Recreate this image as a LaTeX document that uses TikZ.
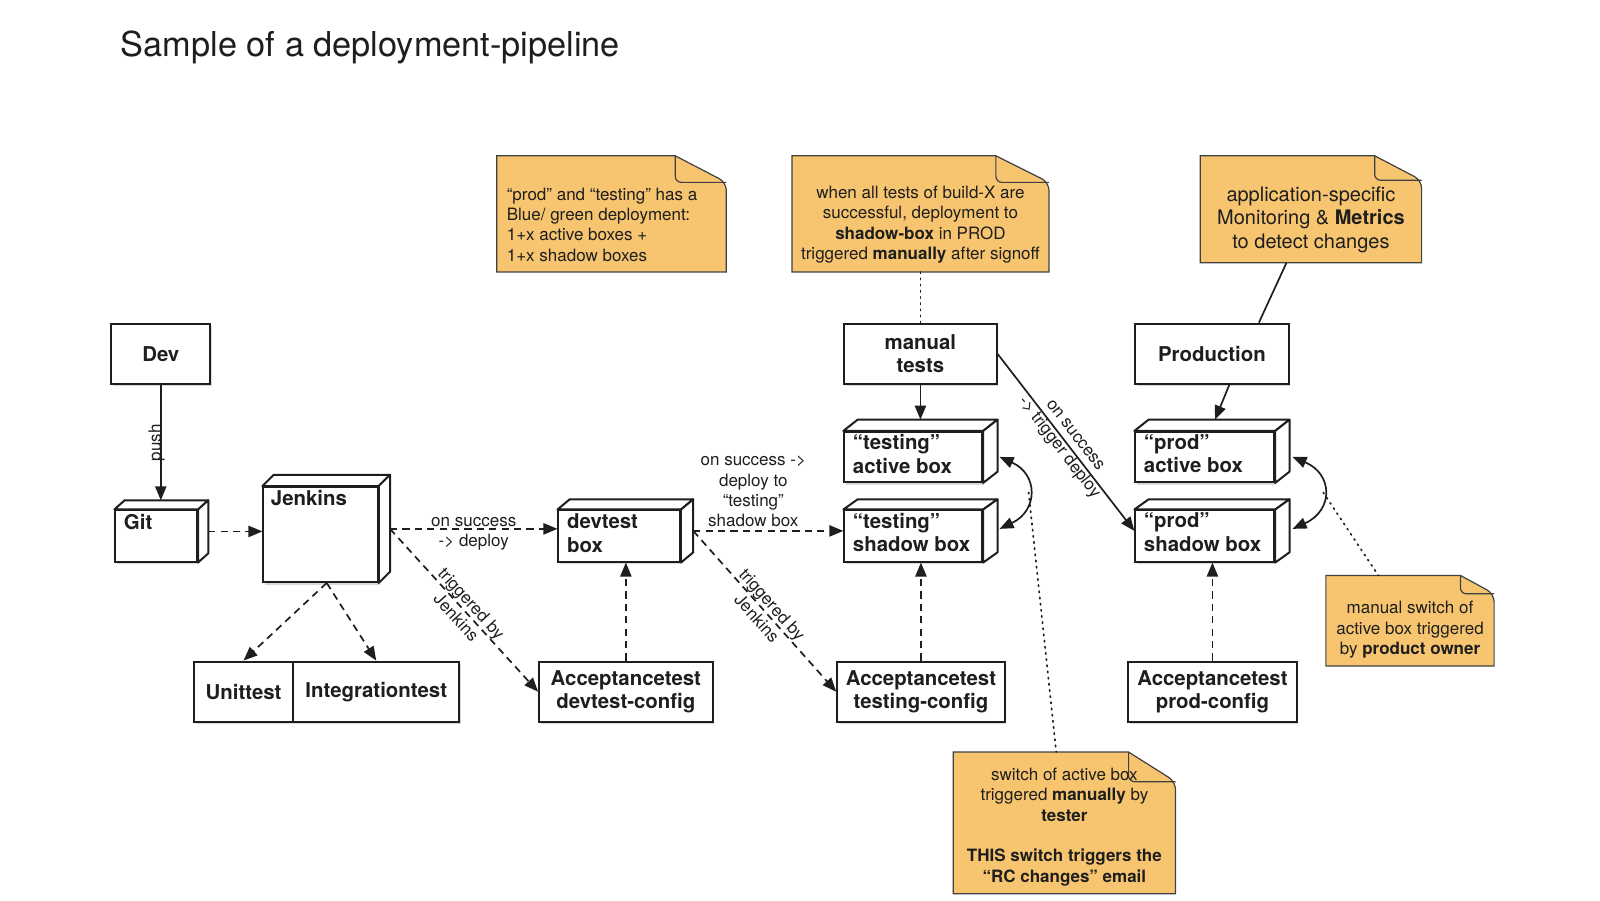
\documentclass[tikz,border=0pt]{standalone}
\usepackage{fontspec}
\setmainfont{TeX Gyre Heros}
\usetikzlibrary{arrows.meta,shadows,backgrounds}
\definecolor{notecol}{HTML}{F7C570}
\definecolor{ink}{HTML}{1E1E1E}
\newcommand\boxfont{\fontsize{10.2}{11.75}\selectfont\bfseries}
\newcommand\lblfont{\fontsize{8.5}{10.2}\selectfont}
\newcommand\notefont{\fontsize{8.5}{10.2}\selectfont}
\newcommand\cubefaces[3]{%
  \draw[boxline] (#1.north west) -- ++(#2,-#3) -- ([shift={(#2,-#3)}]#1.north east) -- (#1.north east) -- cycle;
  \draw[boxline] (#1.north east) -- ([shift={(#2,-#3)}]#1.north east) -- ([shift={(#2,-#3)}]#1.south east) -- (#1.south east) -- cycle;
  \coordinate (#1-top) at ([shift={(#2/2,-#3)}]#1.north);
  \coordinate (#1-right) at ([shift={(#2,-#3/2)}]#1.east);
}
\newcommand\notebg[3]{%
  \begin{scope}[on background layer]
  \draw[noteline, fill=notecol] (#1.south west) -- (#1.north west) -- ([shift={(-#2,0)}]#1.north east)
     [rounded corners=4pt] -- ([shift={(0,#3)}]#1.north east) [sharp corners] -- (#1.south east) -- cycle;
  \draw[noteline, rounded corners=3pt] ([shift={(-#2,0)}]#1.north east) -- ([shift={(-#2,#3)}]#1.north east) -- ([shift={(0,#3)}]#1.north east);
  \end{scope}
}
\tikzset{
  box/.style={draw=ink, line width=1pt, fill=white, inner sep=0pt, align=center, font=\boxfont, text=ink,
    drop shadow={shadow xshift=0.9pt, shadow yshift=-1.3pt, opacity=0.3}},
  boxline/.style={draw=ink, line width=1pt, fill=white, line join=round},
  wh/.style 2 args={minimum width=#1*0.5105pt, minimum height=#2*0.5105pt},
  boxlabel/.style={anchor=north west, inner sep=0pt, align=left, font=\boxfont, text=ink},
  conn/.style={draw=ink, line width=0.85pt},
  arr/.style={conn, -{Triangle[length=7pt,width=5.6pt]}},
  dblarr/.style={conn, {Triangle[length=7pt,width=5.6pt]}-{Triangle[length=7pt,width=5.6pt]}},
  dsh/.style={dash pattern=on 3.6pt off 2.6pt},
  dotline/.style={dash pattern=on 0.7pt off 2.4pt, line cap=round},
  lbl/.style={font=\lblfont, align=center, text=ink, inner sep=1pt},
  notebox/.style={inner sep=0pt},
  notetxt/.style={font=\notefont, align=center, text=ink, inner sep=0pt},
  noteline/.style={draw=ink!85, line width=0.6pt},
}
\begin{document}
\begin{tikzpicture}[x=0.5105pt,y=-0.5105pt]
\useasboundingbox (0,0) rectangle (1567.1,881.5);
\node[anchor=base west, inner sep=0pt, font=\fontsize{17.15}{20}\selectfont, text=ink] (title) at (118,55) {Sample of a deployment-pipeline};

% plain boxes
\node[box, wh={97}{59}] (dev) at (157.5,346.5) {Dev};
\node[box, wh={97}{59}] (unit) at (238.5,677.5) {Unittest};
\node[box, wh={163}{59}] (integ) at (368.5,677.5) {Integrationtest};
\node[box, wh={170}{59}] (adev) at (613,677.5) {Acceptancetest\\devtest-config};
\node[box, wh={149}{59}] (manual) at (901.5,346.5) {manual\\tests};
\node[box, wh={164}{59}] (atest) at (902,677.5) {Acceptancetest\\testing-config};
\node[box, wh={150}{59}] (prod) at (1187,346.5) {Production};
\node[box, wh={165}{59}] (aprod) at (1187.5,677.5) {Acceptancetest\\prod-config};

% 3d boxes
\node[box, wh={80}{50}] (git) at (153,525) {};
\cubefaces{git}{10}{9}
\node[boxlabel] (gitl) at ([shift={(9,4)}]git.north west) {Git};
\node[box, wh={112}{93}] (jenkins) at (314,523.5) {};
\cubefaces{jenkins}{11}{11}
\node[boxlabel] (jenkinsl) at ([shift={(8,4)}]jenkins.north west) {Jenkins};
\node[box, wh={119}{50}] (devtest) at (606.5,525) {};
\cubefaces{devtest}{12}{10}
\node[boxlabel] (devtestl) at ([shift={(9,4)}]devtest.north west) {devtest\\box};
\node[box, wh={135}{49}] (tactive) at (894.5,447.5) {};
\cubefaces{tactive}{14}{11}
\node[boxlabel] (tactivel) at ([shift={(9,3)}]tactive.north west) {“testing”\\active box};
\node[box, wh={135}{50}] (tshadow) at (894.5,525) {};
\cubefaces{tshadow}{14}{10}
\node[boxlabel] (tshadowl) at ([shift={(9,3)}]tshadow.north west) {“testing”\\shadow box};
\node[box, wh={136}{49}] (pactive) at (1180,447.5) {};
\cubefaces{pactive}{14}{11}
\node[boxlabel] (pactivel) at ([shift={(9,3)}]pactive.north west) {“prod”\\active box};
\node[box, wh={136}{50}] (pshadow) at (1180,525) {};
\cubefaces{pshadow}{14}{10}
\node[boxlabel] (pshadowl) at ([shift={(9,3)}]pshadow.north west) {“prod”\\shadow box};

% notes
\node[notebox, wh={224}{113}] (n1) at (599,209.5) {};
\notebg{n1}{50}{26}
\node[notetxt, anchor=west, align=left] (t1) at (496,220) {“prod” and “testing” has a\\Blue/ green deployment:\\1+x active boxes +\\1+x shadow boxes};
\node[notebox, wh={251}{113}] (n2) at (901.5,209.5) {};
\notebg{n2}{52}{26}
\node[notetxt] (t2) at (901.5,220) {when all tests of build-X are\\successful, deployment to\\\textbf{shadow-box} in PROD\\triggered \textbf{manually} after signoff};
\node[notebox, wh={216}{104}] (n3) at (1284,205) {};
\notebg{n3}{46}{24}
\node[notetxt, font=\fontsize{10}{11.75}\selectfont] (t3) at (1284,215) {application-specific\\Monitoring \& \textbf{Metrics}\\to detect changes};
\node[notebox, wh={164}{88}] (n4) at (1381,608) {};
\notebg{n4}{33}{18}
\node[notetxt] (t4) at (1381,617) {manual switch of\\active box triggered\\by \textbf{product owner}};
\node[notebox, wh={217}{138}] (n5) at (1042.5,806) {};
\notebg{n5}{46}{29}
\node[notetxt] (t5) at (1042.5,810) {switch of active box\\triggered \textbf{manually} by\\\textbf{tester}\\[10.2pt]\textbf{THIS switch triggers the}\\\textbf{“RC changes” email}};

% connectors
\draw[arr] (dev.south) -- (dev.south |- git-top) node[pos=0.5, rotate=90, anchor=base, inner sep=0pt, font=\lblfont, text=ink] (pushl) {push};
\draw[arr, dsh] (git-right) -- (jenkins.west |- git-right);
\draw[arr, dsh] (jenkins-right) -- (devtest.west |- jenkins-right) node[midway, lbl, yshift=-2.3pt] (l1) {on success\\-> deploy};
\draw[arr, dsh] (jenkins-right) -- (adev.west) node[midway, sloped, lbl] (l2) {triggered by\\Jenkins};
\draw[arr, dsh] ([shift={(6,0)}]jenkins.south) -- (unit.north);
\draw[arr, dsh] ([shift={(6,0)}]jenkins.south) -- (integ.north);
\draw[arr, dsh] (adev.north) -- (adev.north |- devtest.south);
\draw[arr, dsh] (devtest-right) -- (tshadow.west |- devtest-right) node[pos=0.4, anchor=south, lbl, inner sep=1.5pt] (l3) {on success ->\\deploy to\\“testing”\\shadow box};
\draw[arr, dsh] (devtest-right) -- (atest.west) node[midway, sloped, lbl] (l4) {triggered by\\Jenkins};
\draw[arr, dsh] (atest.north) -- (atest.north |- tshadow.south);
\draw[arr] (manual.south) -- (manual.south |- tactive-top);
\draw[conn, dotline] (n2.south) -- (manual.north);
\draw[arr] (manual.east) -- ([shift={(0,-5)}]pshadow.west) node[midway, sloped, lbl] (l5) {on success\\-> trigger deploy};
\draw[dblarr] ([shift={(16,0)}]tactive.east) .. controls +(38,17) and +(38,-18) .. ([shift={(16,-7)}]tshadow.east) coordinate[pos=0.5] (tsw);
\draw[conn, dotline] (tsw) -- ([shift={(-8,0)}]n5.north);
\draw[arr] ([shift={(17,0)}]prod.south) -- ([shift={(3,0)}]pactive-top);
\draw[conn] ([shift={(-24,0)}]n3.south) -- ([shift={(46,0)}]prod.north);
\draw[dblarr] ([shift={(17,0)}]pactive.east) .. controls +(40,17) and +(40,-18) .. ([shift={(17,-7)}]pshadow.east) coordinate[pos=0.5] (psw);
\draw[conn, dotline] (psw) -- ([shift={(-31,0)}]n4.north);
\draw[arr, dsh] (aprod.north) -- (aprod.north |- pshadow.south);
\end{tikzpicture}
\end{document}
